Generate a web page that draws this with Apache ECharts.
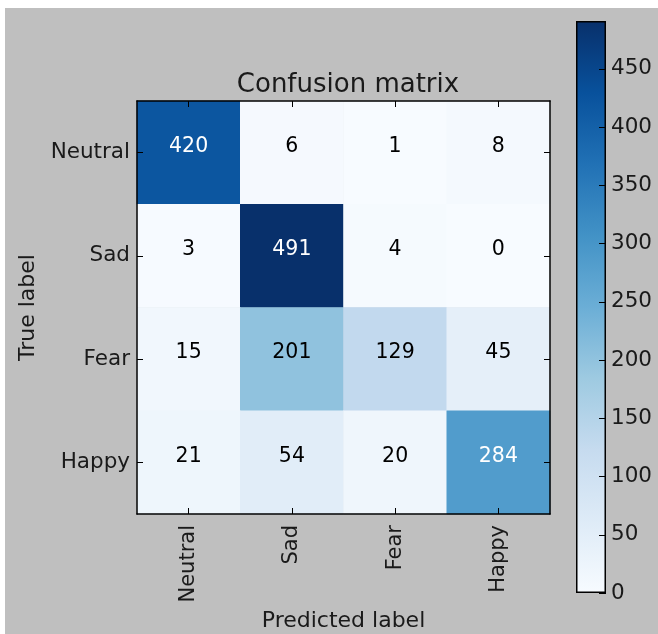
<!DOCTYPE html>
<html>
<head>
<meta charset="utf-8">
<script src="https://cdn.jsdelivr.net/npm/echarts@6/dist/echarts.min.js"></script>
<style>
  html, body { margin: 0; padding: 0; background: #ffffff; }
  #chart { width: 658px; height: 634px; }
</style>
</head>
<body>
<div id="chart"></div>
<script>
// Class names, shared by true and predicted axes
const classes = ['Neutral', 'Sad', 'Fear', 'Happy'];

// Confusion matrix rows (true label) by columns (predicted label)
const rowNeutral = [420, 6, 1, 8];
const rowSad = [3, 491, 4, 0];
const rowFear = [15, 201, 129, 45];
const rowHappy = [21, 54, 20, 284];
const matrixRows = [rowNeutral, rowSad, rowFear, rowHappy];

// Colour bar tick values
const colorbarTicks = [0, 50, 100, 150, 200, 250, 300, 350, 400, 450];

// Matplotlib "Blues" colormap stops
const blues = ['#f7fbff', '#deebf7', '#c6dbef', '#9ecae1', '#6baed6',
               '#4292c6', '#2171b5', '#08519c', '#08306b'];

const font = 'DejaVu Sans';
const textColor = '#1a1a1a';
const vmax = Math.max(...matrixRows.flat());
const thresh = vmax / 2;

const cells = [];
matrixRows.forEach((row, r) => {
  row.forEach((v, c) => {
    cells.push({
      value: [c, r, v],
      label: { color: v > thresh ? '#ffffff' : '#000000' }
    });
  });
});

const gradient = new echarts.graphic.LinearGradient(0, 1, 0, 0,
  blues.map((c, i) => ({ offset: i / (blues.length - 1), color: c })));

const tickStyle = { show: true, inside: true, length: 6, alignWithLabel: true,
  lineStyle: { color: '#000', width: 1 } };
const lineStyle = { show: true, lineStyle: { color: '#000', width: 1.5 } };

const chart = echarts.init(document.getElementById('chart'));
chart.setOption({
  backgroundColor: '#ffffff',
  animation: false,
  graphic: [{
    type: 'rect', z: -100, silent: true,
    shape: { x: 5, y: 8, width: 653, height: 626 },
    style: { fill: '#bfbfbf' }
  }],
  title: {
    text: 'Confusion matrix',
    left: 343, top: 67, textAlign: 'center',
    textStyle: { fontFamily: font, fontSize: 26, fontWeight: 'normal', color: textColor }
  },
  grid: [
    { left: 137, top: 101, width: 413, height: 413, outerBoundsMode: 'none', containLabel: false },
    { left: 576, top: 21, width: 30, height: 572, outerBoundsMode: 'none', containLabel: false }
  ],
  xAxis: [
    {
      type: 'category', data: classes, gridIndex: 0, position: 'bottom', z: 10,
      axisLine: lineStyle, axisTick: tickStyle, splitLine: { show: false },
      axisLabel: { rotate: 90, margin: 11, fontFamily: font, fontSize: 21, color: textColor },
      name: 'Predicted label', nameLocation: 'middle', nameGap: 91,
      nameTextStyle: { fontFamily: font, fontSize: 22, color: textColor }
    },
    {
      type: 'category', data: classes, gridIndex: 0, position: 'top', z: 10,
      axisLine: lineStyle, axisTick: tickStyle, axisLabel: { show: false }
    },
    {
      type: 'category', data: [''], gridIndex: 1, z: 10,
      axisLine: { show: false }, axisTick: { show: false }, axisLabel: { show: false }
    }
  ],
  yAxis: [
    {
      type: 'category', data: classes, gridIndex: 0, inverse: true, position: 'left', z: 10,
      axisLine: lineStyle, axisTick: tickStyle,
      axisLabel: { margin: 7, fontFamily: font, fontSize: 21.5, color: textColor },
      name: 'True label', nameLocation: 'middle', nameGap: 93, nameRotate: 90,
      nameTextStyle: { fontFamily: font, fontSize: 22, color: textColor }
    },
    {
      type: 'category', data: classes, gridIndex: 0, inverse: true, position: 'right', z: 10,
      axisLine: lineStyle, axisTick: tickStyle, axisLabel: { show: false }
    },
    {
      type: 'value', gridIndex: 1, position: 'right', min: 0, max: vmax, z: 10,
      interval: 50,
      axisLine: { show: false }, splitLine: { show: false },
      axisTick: { show: true, inside: true, length: 7, lineStyle: { color: '#000' } },
      axisLabel: {
        margin: 5, fontFamily: font, fontSize: 21.5, color: textColor,
        customValues: colorbarTicks,
        formatter: v => colorbarTicks.includes(v) ? String(v) : ''
      }
    }
  ],
  visualMap: {
    show: false, seriesIndex: 0, min: 0, max: vmax, dimension: 2,
    inRange: { color: blues }
  },
  series: [
    {
      type: 'heatmap', xAxisIndex: 0, yAxisIndex: 0, data: cells,
      label: { show: true, offset: [0, -6], fontFamily: font, fontSize: 20.5,
               formatter: p => String(p.value[2]) }
    },
    {
      type: 'bar', xAxisIndex: 2, yAxisIndex: 2, data: [vmax], barWidth: '100%',
      itemStyle: { color: gradient, borderColor: '#000', borderWidth: 1.5 },
      silent: true
    }
  ]
});
</script>
</body>
</html>
